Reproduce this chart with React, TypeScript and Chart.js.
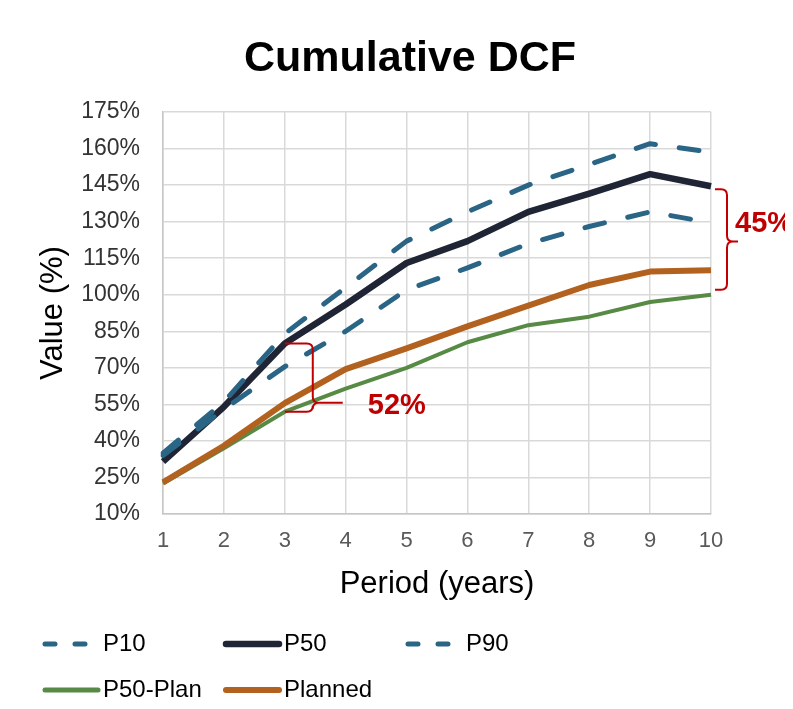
import React, { useEffect, useRef } from 'react';
import { Chart, registerables } from 'chart.js';

Chart.register(...registerables);

// ---- data ----
const periods = ['1', '2', '3', '4', '5', '6', '7', '8', '9', '10'];
const p10 = [35, 56, 84, 103, 122, 134, 145, 153.5, 162, 158.5];
const p50 = [31.5, 54, 80, 96, 113, 122, 134, 141.5, 149.5, 144.5];
const p90 = [34, 53, 70.5, 85, 102, 111, 121, 128, 134, 129.5];
const p50Plan = [22.5, 37, 52, 61.5, 70, 80.5, 87.5, 91, 97, 100];
const planned = [23, 38, 55.5, 69.5, 78, 87, 95.5, 104, 109.5, 110];
const seriesNames = ['P10', 'P50', 'P90', 'P50-Plan', 'Planned'];
const yMin = 10;
const yMax = 175;
const yStep = 15;
const chartTitle = 'Cumulative DCF';
const xTitle = 'Period (years)';
const yTitle = 'Value (%)';
const gapLabels = ['52%', '45%'];
const gapIndices = [2, 9];

const FONT = '"Liberation Sans", Arial, Helvetica, sans-serif';
const BLUE = '#2b6585';
const NAVY = '#1f2535';
const GREEN = '#578a45';
const ORANGE = '#b3611f';
const RED = '#c00000';

function drawBrace(ctx: CanvasRenderingContext2D, x0: number, yTop: number, yBot: number, depth: number, nibLen: number, nibY: number, r: number) {
  const xv = x0 + depth;
  ctx.beginPath();
  ctx.moveTo(x0, yTop);
  ctx.lineTo(xv - r, yTop);
  ctx.quadraticCurveTo(xv, yTop, xv, yTop + r);
  ctx.lineTo(xv, nibY - r);
  ctx.quadraticCurveTo(xv, nibY, xv + r, nibY);
  ctx.lineTo(xv + nibLen, nibY);
  ctx.moveTo(xv + r, nibY);
  ctx.quadraticCurveTo(xv, nibY, xv, nibY + r);
  ctx.lineTo(xv, yBot - r);
  ctx.quadraticCurveTo(xv, yBot, xv - r, yBot);
  ctx.lineTo(x0, yBot);
  ctx.stroke();
}

const overlayPlugin = {
  id: 'overlay',
  afterDraw(chart: any) {
    const ctx: CanvasRenderingContext2D = chart.ctx;
    const xs = chart.scales.x;
    const ys = chart.scales.y;
    ctx.save();

    // title
    ctx.font = `bold 43px ${FONT}`;
    ctx.fillStyle = '#000';
    ctx.textAlign = 'center';
    ctx.textBaseline = 'alphabetic';
    ctx.fillText(chartTitle, 402, 63);

    // brace 1 (period 3)
    ctx.strokeStyle = RED;
    ctx.lineWidth = 2;
    ctx.lineCap = 'butt';
    {
      const i = gapIndices[0];
      const x0 = xs.getPixelForValue(i);
      const yT = ys.getPixelForValue(p50[i]);
      const yB = ys.getPixelForValue(p50Plan[i]);
      const nibY = yT + (yB - yT) * 0.87;
      drawBrace(ctx, x0, yT, yB, 28, 30, nibY, 6);
      ctx.fillStyle = RED;
      ctx.font = `bold 29px ${FONT}`;
      ctx.textAlign = 'left';
      ctx.textBaseline = 'middle';
      ctx.fillText(gapLabels[0], x0 + 83, nibY + 3);
    }
    // brace 2 (period 10)
    {
      const i = gapIndices[1];
      const x0 = xs.getPixelForValue(i) + 4;
      const yT = ys.getPixelForValue(p50[i]) + 3;
      const yB = ys.getPixelForValue(p50Plan[i]) - 5;
      const nibY = (yT + yB) / 2 + 2;
      drawBrace(ctx, x0, yT, yB, 12, 11, nibY, 6);
      ctx.fillStyle = RED;
      ctx.font = `bold 29px ${FONT}`;
      ctx.textAlign = 'left';
      ctx.textBaseline = 'middle';
      ctx.fillText(gapLabels[1], x0 + 20, nibY - 18);
    }

    // legend
    const cols = [34, 215, 397];
    const rows = [636, 682];
    const ds = chart.data.datasets;
    ds.forEach((d: any, k: number) => {
      const x = cols[k % 3];
      const y = rows[Math.floor(k / 3)];
      ctx.strokeStyle = d.borderColor;
      ctx.lineWidth = Math.max(d.borderWidth, 5);
      ctx.lineCap = 'round';
      ctx.setLineDash(d.borderDash && d.borderDash.length ? [10, 20] : []);
      ctx.beginPath();
      ctx.moveTo(x + 3, y);
      ctx.lineTo(x + 56, y);
      ctx.stroke();
      ctx.setLineDash([]);
      ctx.fillStyle = '#000';
      ctx.font = `24px ${FONT}`;
      ctx.textAlign = 'left';
      ctx.textBaseline = 'middle';
      ctx.fillText(d.label, x + 61, y);
    });
    ctx.restore();
  },
};

export default function App() {
  const ref = useRef<HTMLCanvasElement>(null);
  useEffect(() => {
    Chart.defaults.font.family = FONT;
    const dash = [20, 24];
    const chart = new Chart(ref.current as HTMLCanvasElement, {
      type: 'line',
      data: {
        labels: periods,
        datasets: [
          { label: seriesNames[0], data: p10, borderColor: BLUE, backgroundColor: BLUE, borderWidth: 5, borderDash: dash, borderCapStyle: 'round', order: 0 },
          { label: seriesNames[1], data: p50, borderColor: NAVY, backgroundColor: NAVY, borderWidth: 6.5, borderCapStyle: 'butt', order: 2 },
          { label: seriesNames[2], data: p90, borderColor: BLUE, backgroundColor: BLUE, borderWidth: 5, borderDash: dash, borderCapStyle: 'round', order: 1 },
          { label: seriesNames[3], data: p50Plan, borderColor: GREEN, backgroundColor: GREEN, borderWidth: 4, order: 4 },
          { label: seriesNames[4], data: planned, borderColor: ORANGE, backgroundColor: ORANGE, borderWidth: 6, order: 3 },
        ] as any,
      },
      options: {
        animation: false,
        responsive: true,
        maintainAspectRatio: false,
        layout: { padding: { left: 0, right: 74, top: 104, bottom: 87 } },
        elements: { point: { radius: 0, hoverRadius: 0 }, line: { tension: 0, borderJoinStyle: 'round' } },
        plugins: { legend: { display: false }, title: { display: false }, tooltip: { enabled: false } },
        scales: {
          x: {
            type: 'category',
            offset: false,
            grid: { color: '#d9d9d9', lineWidth: 1.5, drawTicks: false },
            border: { color: '#c6c6c6', width: 1.5 },
            ticks: { color: '#595959', font: { size: 22 }, padding: 14, maxRotation: 0 },
            title: { display: true, text: xTitle, color: '#000', font: { size: 31 }, padding: { top: 0, bottom: 11 } },
            afterFit: (s: any) => { s.height = 100; },
          },
          y: {
            min: yMin,
            max: yMax,
            grid: { color: '#d9d9d9', lineWidth: 1.5, drawTicks: false },
            border: { color: '#c6c6c6', width: 1.5 },
            ticks: { stepSize: yStep, color: '#333333', font: { size: 23 }, padding: 23, callback: (v: any) => `${v}%` },
            title: { display: true, text: yTitle, color: '#000', font: { size: 31 }, padding: { top: 27, bottom: 0 } },
            afterFit: (s: any) => { s.width = 155; },
          },
        },
      } as any,
      plugins: [overlayPlugin],
    });
    return () => chart.destroy();
  }, []);
  return (
    <div style={{ width: 777, height: 693, position: 'relative' }}>
      <canvas ref={ref} />
    </div>
  );
}
